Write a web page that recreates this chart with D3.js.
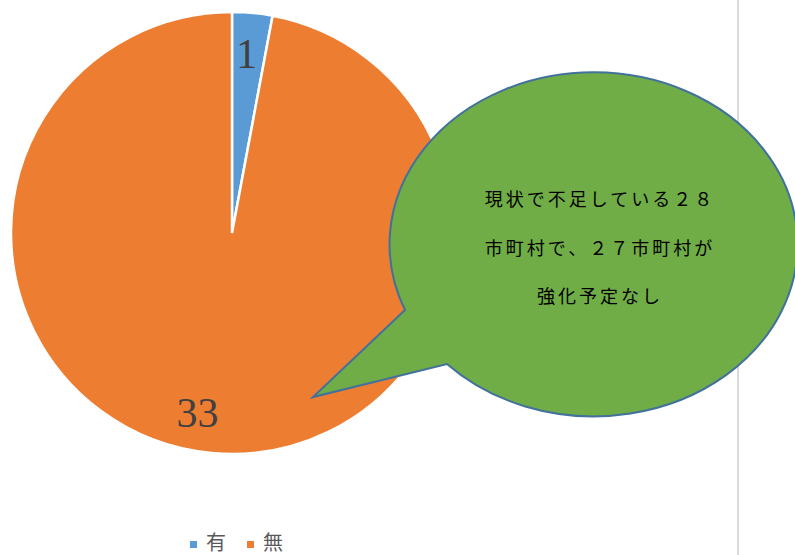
<!DOCTYPE html>
<html>
<head>
<meta charset="utf-8">
<script src="https://cdn.jsdelivr.net/npm/d3@7"></script>
<style>
  body { margin: 0; background: #fff; }
  svg { display: block; }
</style>
</head>
<body>
<div id="root"></div>
<script>
const labels = ['有', '無'];
const values = [1, 33];
const colors = ['#5B9BD5', '#ED7D31'];
const calloutLines = ['現状で不足している２８', '市町村で、２７市町村が', '強化予定なし'];

const w = 795;
const h = 555;

const svg = d3.select('#root')
  .append('svg')
  .attr('width', w)
  .attr('height', h);

// grey divider on the right
svg.append('line')
  .attr('x1', 738).attr('x2', 738)
  .attr('y1', 0).attr('y2', h)
  .attr('stroke', '#d9d9d9')
  .attr('stroke-width', 2);

// pie
const cx = 232, cy = 233, r = 221;
const pie = d3.pie().sort(null).value(d => d)(values);
const arc = d3.arc().innerRadius(0).outerRadius(r);
const labelArc = d3.arc().innerRadius(180).outerRadius(180);
const labelShift = [-2, -18]; // excel nudges the big label left

const g = svg.append('g').attr('transform', `translate(${cx},${cy})`);

g.selectAll('path')
  .data(pie)
  .enter()
  .append('path')
  .attr('d', arc)
  .attr('fill', (d, i) => colors[i])
  .attr('stroke', '#fff')
  .attr('stroke-width', 2.5);

g.selectAll('text')
  .data(pie)
  .enter()
  .append('text')
  .attr('transform', d => `translate(${labelArc.centroid(d)})`)
  .attr('dx', (d, i) => labelShift[i])
  .attr('text-anchor', 'middle')
  .attr('dy', '0.35em')
  .style('font-family', '"Liberation Serif", "DejaVu Serif", serif')
  .style('font-size', '42px')
  .style('fill', '#404040')
  .text(d => d.data);

// callout bubble
const ex = 596, ey = 247, rx = 204, ry = 172;
const baseA = [405, 310], tip = [313, 397], baseB = [447, 364];
svg.append('path')
  .attr('d', `M${baseA} L${tip} L${baseB} A${rx} ${ry} 0 1 0 ${baseA} Z`)
  .attr('fill', '#70AD47')
  .attr('stroke', '#41719C')
  .attr('stroke-width', 2);

svg.append('g')
  .selectAll('text')
  .data(calloutLines)
  .enter()
  .append('text')
  .attr('x', 600)
  .attr('y', (d, i) => 206 + i * 48.5)
  .attr('text-anchor', 'middle')
  .style('font-family', '"Noto Sans CJK JP", sans-serif')
  .style('font-size', '18px')
  .style('letter-spacing', '3px')
  .style('fill', '#000')
  .text(d => d);

// legend
const legend = svg.append('g').attr('transform', 'translate(190, 541)');
const item = legend.selectAll('g')
  .data(labels)
  .enter()
  .append('g')
  .attr('transform', (d, i) => `translate(${i * 57}, 0)`);
item.append('rect')
  .attr('width', 7)
  .attr('height', 7)
  .attr('fill', (d, i) => colors[i]);
item.append('text')
  .attr('x', 16)
  .attr('y', 9)
  .style('font-family', '"Noto Sans CJK JP", sans-serif')
  .style('font-size', '20px')
  .style('fill', '#595959')
  .text(d => d);
</script>
</body>
</html>
